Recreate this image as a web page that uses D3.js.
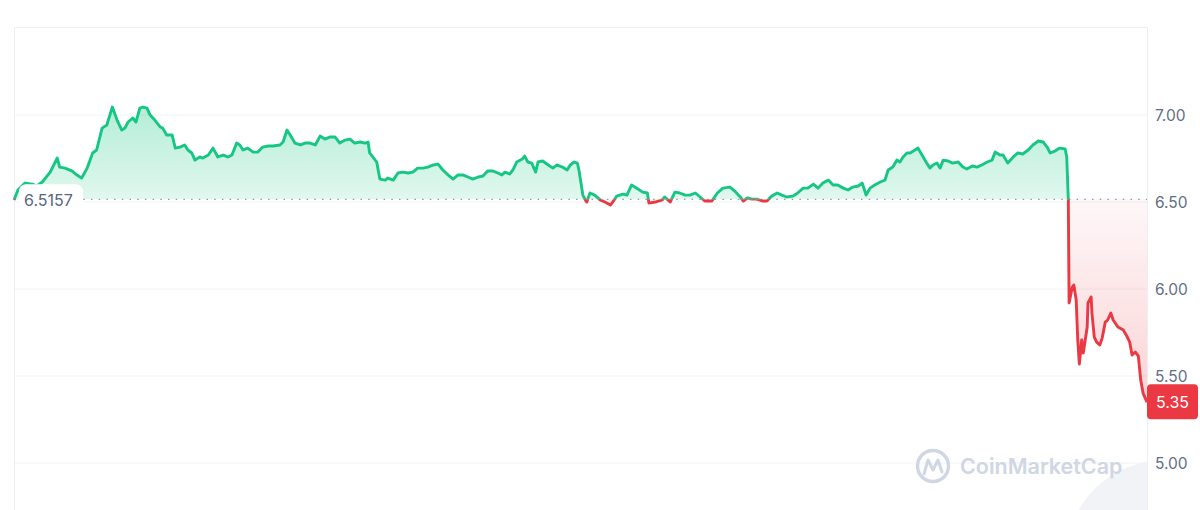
<!DOCTYPE html>
<html>
<head>
<meta charset="utf-8">
<script src="https://cdn.jsdelivr.net/npm/d3@7"></script>
<style>
html,body{margin:0;padding:0;background:#fff;}
svg{display:block;font-family:Inter,"Noto Sans",sans-serif;}
</style>
</head>
<body>
<svg id="chart" width="1200" height="510"></svg>
<script>
// minutes since start of the 24h window
const minutes = [0,5,14,23,29,36,46,55,58,65,74,80,86,93,100,105,112,118,125,131,137,141,145,151,155,160,164,169,173,179,186,189,194,201,205,211,217,221,226,230,236,240,247,253,259,266,272,277,283,287,291,297,304,310,316,323,329,338,342,347,351,357,364,370,376,383,389,395,402,408,414,421,427,433,440,446,450,452,456,461,465,472,475,482,488,494,501,507,513,520,526,533,539,545,552,558,564,571,577,583,590,596,602,609,615,620,624,630,634,639,646,649,653,658,663,666,672,679,685,690,697,703,707,712,716,718,721,723,727,728,732,738,745,751,758,761,766,774,779,785,793,799,805,807,815,824,827,834,840,846,853,859,866,872,878,887,894,901,910,916,923,927,932,938,944,951,957,963,970,976,982,990,996,1003,1009,1016,1022,1028,1035,1041,1047,1054,1060,1066,1073,1078,1083,1088,1094,1101,1107,1111,1117,1122,1126,1130,1135,1139,1143,1149,1154,1160,1164,1168,1173,1177,1181,1187,1193,1200,1206,1211,1218,1224,1230,1237,1243,1247,1253,1257,1263,1270,1276,1282,1289,1295,1302,1308,1313,1317,1323,1329,1336,1338,1340,1341,1345,1347,1350,1352,1354,1357,1359,1364,1365,1369,1370,1373,1376,1380,1383,1387,1390,1394,1397,1403,1410,1415,1418,1421,1425,1429,1432,1435,1440];
const prices = [6.512,6.569,6.609,6.603,6.592,6.615,6.672,6.753,6.701,6.695,6.678,6.655,6.638,6.695,6.782,6.799,6.925,6.943,7.046,6.971,6.914,6.925,6.960,6.983,6.960,7.040,7.046,7.040,7.000,6.971,6.931,6.925,6.885,6.885,6.810,6.816,6.828,6.799,6.782,6.741,6.759,6.753,6.770,6.810,6.759,6.770,6.759,6.770,6.839,6.828,6.799,6.810,6.787,6.787,6.816,6.822,6.822,6.828,6.845,6.914,6.885,6.839,6.828,6.839,6.839,6.828,6.879,6.862,6.874,6.874,6.839,6.856,6.862,6.839,6.845,6.839,6.845,6.782,6.759,6.730,6.632,6.626,6.638,6.626,6.667,6.672,6.667,6.672,6.695,6.695,6.701,6.713,6.718,6.684,6.655,6.632,6.655,6.655,6.644,6.632,6.644,6.649,6.678,6.678,6.667,6.655,6.672,6.661,6.684,6.730,6.747,6.764,6.730,6.724,6.672,6.730,6.736,6.713,6.695,6.713,6.701,6.684,6.713,6.730,6.724,6.684,6.598,6.540,6.506,6.500,6.552,6.540,6.512,6.500,6.483,6.500,6.534,6.546,6.540,6.598,6.575,6.557,6.552,6.494,6.500,6.512,6.529,6.500,6.557,6.552,6.540,6.540,6.552,6.529,6.506,6.506,6.552,6.580,6.586,6.563,6.529,6.506,6.523,6.517,6.517,6.506,6.506,6.534,6.552,6.540,6.529,6.534,6.552,6.580,6.580,6.603,6.580,6.609,6.626,6.598,6.598,6.580,6.569,6.586,6.592,6.609,6.540,6.580,6.598,6.615,6.626,6.684,6.701,6.741,6.730,6.759,6.782,6.782,6.793,6.810,6.770,6.724,6.695,6.713,6.724,6.695,6.741,6.736,6.724,6.730,6.701,6.690,6.707,6.701,6.713,6.730,6.741,6.787,6.770,6.770,6.724,6.759,6.782,6.776,6.799,6.828,6.851,6.845,6.816,6.782,6.793,6.810,6.805,6.759,6.512,5.920,6.011,6.023,5.937,5.707,5.569,5.707,5.632,5.782,5.920,5.954,5.862,5.724,5.695,5.678,5.718,5.810,5.822,5.862,5.822,5.782,5.764,5.724,5.695,5.621,5.638,5.615,5.477,5.402,5.350];
const yTicks = [5.00,5.50,6.00,6.50,7.00];
const baseline = 6.5157;
const lastPrice = 5.35;

const data = minutes.map((m,i)=>({m, p:prices[i]}));
const svg = d3.select("#chart");
const W = 1200, H = 510;
const plotLeft = 14, plotRight = 1147, plotTop = 27;

const x = d3.scaleLinear().domain([0,1440]).range([plotLeft,plotRight]);
const y = d3.scaleLinear().domain([4.73,7.506]).range([H,plotTop]);
const yb = y(baseline);

const defs = svg.append("defs");
const gG = defs.append("linearGradient").attr("id","gGreen").attr("gradientUnits","userSpaceOnUse")
  .attr("x1",0).attr("x2",0).attr("y1",y(d3.max(prices))).attr("y2",yb);
gG.append("stop").attr("offset","0%").attr("stop-color","#16c784").attr("stop-opacity",0.32);
gG.append("stop").attr("offset","100%").attr("stop-color","#16c784").attr("stop-opacity",0.13);
const gR = defs.append("linearGradient").attr("id","gRed").attr("gradientUnits","userSpaceOnUse")
  .attr("x1",0).attr("x2",0).attr("y1",yb).attr("y2",y(d3.min(prices)));
gR.append("stop").attr("offset","0%").attr("stop-color","#ea3943").attr("stop-opacity",0.04);
gR.append("stop").attr("offset","100%").attr("stop-color","#ea3943").attr("stop-opacity",0.22);

defs.append("clipPath").attr("id","above").append("rect")
  .attr("x",0).attr("y",0).attr("width",W).attr("height",yb);
defs.append("clipPath").attr("id","below").append("rect")
  .attr("x",0).attr("y",yb).attr("width",W).attr("height",H-yb);
defs.append("clipPath").attr("id","plotclip").append("rect")
  .attr("x",plotLeft).attr("y",plotTop).attr("width",plotRight-plotLeft).attr("height",H-plotTop);

// bottom-right faint shape
svg.append("g").attr("clip-path","url(#plotclip)")
  .append("circle").attr("cx",1165).attr("cy",560).attr("r",100).attr("fill","#f1f3f6");

// gridlines
svg.append("g").selectAll("line").data(yTicks).join("line")
  .attr("x1",plotLeft).attr("x2",plotRight).attr("y1",d=>y(d)).attr("y2",d=>y(d))
  .attr("stroke","#eff2f5").attr("stroke-width",1);

// border
svg.append("path")
  .attr("d",`M${plotLeft+0.5},${H}V${plotTop+0.5}H${plotRight+0.5}V${H}`)
  .attr("fill","none").attr("stroke","#eceff3").attr("stroke-width",1);

// watermark
const wm = svg.append("g").attr("fill","none").attr("stroke","#cfd6e4");
wm.append("circle").attr("cx",933).attr("cy",466).attr("r",15.5).attr("stroke-width",3.4);
wm.append("path").attr("d","M924,474 L928,460 L933,470 L938,460 L942,472")
  .attr("stroke-width",3).attr("stroke-linejoin","round").attr("stroke-linecap","round");
svg.append("text").attr("x",960).attr("y",474).text("CoinMarketCap")
  .attr("fill","#cfd6e4").attr("font-size",21.5).attr("font-weight",600);

// areas
const area = d3.area().x(d=>x(d.m)).y0(yb).y1(d=>y(d.p));
svg.append("path").datum(data).attr("d",area).attr("fill","url(#gGreen)").attr("clip-path","url(#above)");
svg.append("path").datum(data).attr("d",area).attr("fill","url(#gRed)").attr("clip-path","url(#below)");

// baseline dotted
svg.append("line").attr("x1",plotLeft).attr("x2",plotRight).attr("y1",yb).attr("y2",yb)
  .attr("stroke","#8f99a8").attr("stroke-width",1.3).attr("stroke-dasharray","1.5,6.2");

// lines
const line = d3.line().x(d=>x(d.m)).y(d=>y(d.p));
svg.append("path").datum(data).attr("d",line).attr("fill","none").attr("stroke","#16c784")
  .attr("stroke-width",2.9).attr("stroke-linejoin","round").attr("clip-path","url(#above)");
svg.append("path").datum(data).attr("d",line).attr("fill","none").attr("stroke","#ea3943")
  .attr("stroke-width",2.9).attr("stroke-linejoin","round").attr("clip-path","url(#below)");

// y axis labels
svg.append("g").selectAll("text").data(yTicks).join("text")
  .attr("x",1155).attr("y",d=>y(d)).attr("dy","0.36em")
  .attr("fill","#616e85").attr("font-size",15.5).text(d=>d3.format(".2f")(d));

// baseline label
const bl = svg.append("g");
bl.append("rect").attr("x",19).attr("y",yb-15).attr("width",64).attr("height",30).attr("rx",7)
  .attr("fill","#fff");
bl.append("text").attr("x",24).attr("y",yb+1).attr("dy","0.36em").attr("fill","#58667e")
  .attr("font-size",16).text(d3.format(".4f")(baseline));

// last price badge
const yl = y(lastPrice);
svg.append("rect").attr("x",1147).attr("y",yl-18).attr("width",51).attr("height",35).attr("rx",4)
  .attr("fill","#ea3943");
svg.append("text").attr("x",1172.5).attr("y",yl).attr("dy","0.36em").attr("text-anchor","middle")
  .attr("fill","#fff").attr("font-size",16).text(d3.format(".2f")(lastPrice));
</script>
</body>
</html>
